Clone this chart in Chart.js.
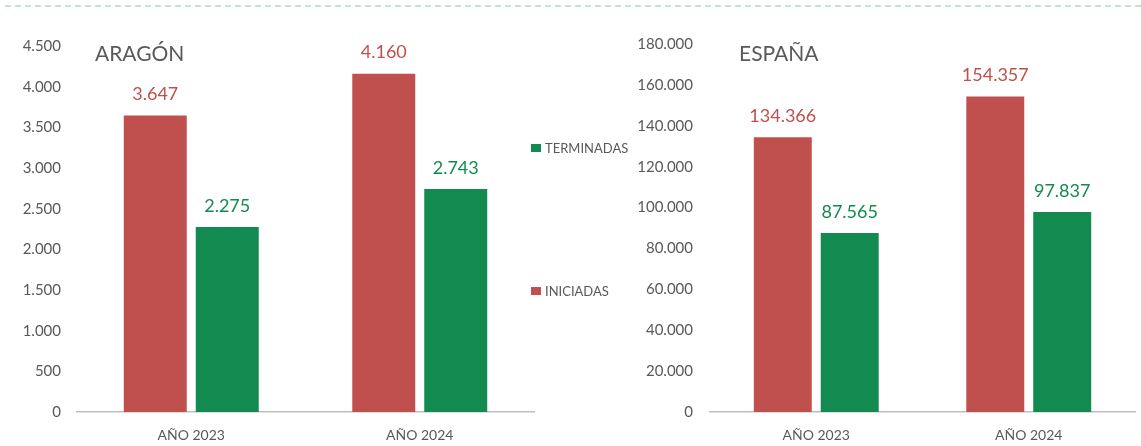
<!DOCTYPE html>
<html>
<head>
<meta charset="utf-8">
<script src="https://cdn.jsdelivr.net/npm/chart.js@4"></script>
<style>
  html, body { margin:0; padding:0; background:#fff; }
  body { width:1141px; height:446px; position:relative; overflow:hidden; font-family: Lato, "Open Sans", sans-serif; }
  #topline { position:absolute; left:5px; top:5px; width:1136px; height:0; border-top:2px dashed #c2e4d3; }
  .wrap { position:absolute; top:0; height:446px; }
  #w1 { left:0; width:540px; }
  #w2 { left:540px; width:601px; }
  .title { position:absolute; color:#595959; font-size:21px; top:40px; }
  .leg { position:absolute; color:#595959; font-size:13px; left:531px; display:flex; align-items:center; }
  .leg span.sw { display:inline-block; width:10px; height:8px; margin-right:4px; }
</style>
</head>
<body>
<div id="topline"></div>
<div class="wrap" id="w1"><canvas id="c1" width="540" height="446"></canvas></div>
<div class="wrap" id="w2"><canvas id="c2" width="601" height="446"></canvas></div>
<div class="title" style="left:95px;">ARAGÓN</div>
<div class="title" style="left:739px;">ESPAÑA</div>
<div class="leg" style="top:140px;"><span class="sw" style="background:#128A50"></span>TERMINADAS</div>
<div class="leg" style="top:283px;"><span class="sw" style="background:#C0504D"></span>INICIADAS</div>
<script>
const categories = ["AÑO 2023", "AÑO 2024"];
const seriesNames = ["INICIADAS", "TERMINADAS"];
const aragonIniciadas = [3647, 4160];
const aragonTerminadas = [2275, 2743];
const espanaIniciadas = [134366, 154357];
const espanaTerminadas = [87565, 97837];
const aragonTicks = { max: 4500, step: 500 };
const espanaTicks = { max: 180000, step: 20000 };

const RED = "#C0504D", GREEN = "#128A50", GREY = "#595959";
const fmt = v => v.toLocaleString("de-DE");

const labelPlugin = {
  id: "barLabels",
  afterDatasetsDraw(chart) {
    const ctx = chart.ctx;
    ctx.save();
    ctx.font = "18px Lato";
    ctx.textAlign = "center";
    ctx.textBaseline = "middle";
    chart.data.datasets.forEach((ds, i) => {
      const meta = chart.getDatasetMeta(i);
      meta.data.forEach((el, j) => {
        ctx.fillStyle = ds.backgroundColor;
        ctx.fillText(fmt(ds.data[j]), el.x, el.y - 21);
      });
    });
    ctx.restore();
  }
};

function makeChart(id, ini, ter, tk, yWidth, yPad, top, catPct, barPct) {
  return new Chart(document.getElementById(id), {
    type: "bar",
    data: {
      labels: categories,
      datasets: [
        { label: seriesNames[0], data: ini, backgroundColor: RED, categoryPercentage: catPct, barPercentage: barPct },
        { label: seriesNames[1], data: ter, backgroundColor: GREEN, categoryPercentage: catPct, barPercentage: barPct }
      ]
    },
    options: {
      responsive: false,
      animation: false,
      layout: { padding: { top: top, right: 6, left: 0, bottom: 0 } },
      plugins: { legend: { display: false }, tooltip: { enabled: false } },
      scales: {
        x: {
          grid: { display: false, drawTicks: false },
          border: { display: true, color: "#BFBFBF", width: 1.5 },
          ticks: { color: GREY, font: { family: "Lato", size: 14 }, padding: 15 },
          afterFit(s) { s.height = 34; }
        },
        y: {
          min: 0, max: tk.max,
          grid: { display: false, drawTicks: false },
          border: { display: false },
          ticks: { stepSize: tk.step, color: GREY, font: { family: "Lato", size: 15 }, padding: yPad, callback: v => fmt(v) },
          afterFit(s) { s.width = yWidth; }
        }
      }
    },
    plugins: [labelPlugin]
  });
}

makeChart("c1", aragonIniciadas, aragonTerminadas, aragonTicks, 77, 16, 46, 0.63, 0.875);
makeChart("c2", espanaIniciadas, espanaTerminadas, espanaTicks, 170, 17, 44, 0.63, 0.866);
</script>
</body>
</html>
